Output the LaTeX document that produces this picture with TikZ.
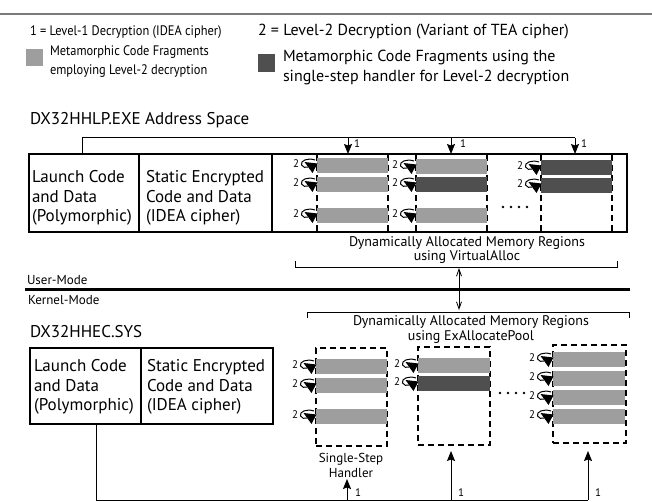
\documentclass[tikz,border=0pt]{standalone}
\usepackage{fontspec}
\setmainfont{PT Sans}
\newfontfamily\condfont[FakeStretch=0.9]{PT Sans}
\usetikzlibrary{arrows.meta}
\definecolor{lightg}{HTML}{9E9E9E}
\definecolor{darkg}{HTML}{4F4F4F}
\definecolor{ruleg}{HTML}{7A7A7A}
\tikzset{
  twoloop/.pic={
    \node[font=\fontsize{11}{11}\selectfont, inner sep=0pt] at (-21,6) {2};
    \draw[line width=1] (-2,2) .. controls (-9,-0.5) and (-17,2.5) .. (-15.5,7) .. controls (-14.5,9.5) and (-11,10) .. (-9,9);
    \fill (-12.5,4) -- (0.5,5.5) -- (-4.5,15) -- cycle;
  }
}
\begin{document}
\begin{tikzpicture}[x=1pt,y=-1pt,
  every node/.style={inner sep=0pt, outer sep=0pt},
  txtbig/.style={font=\fontsize{17}{19.5}\selectfont, align=left},
  txtlegA/.style={font=\condfont\fontsize{13.8}{20}\selectfont, align=left},
  txtlegB/.style={font=\condfont\fontsize{13.8}{19}\selectfont, align=left},
  txtlegC/.style={font=\fontsize{16}{20.5}\selectfont, align=left},
  txtsmall/.style={font=\fontsize{13}{15}\selectfont, align=center},
  txtbrack/.style={font=\fontsize{14}{14.5}\selectfont, align=center},
  txtone/.style={font=\fontsize{11}{11}\selectfont},
  solidbox/.style={draw, line width=1.1, anchor=north west},
  dashbox/.style={draw, line width=1.2, dash pattern=on 6pt off 4pt, anchor=north west},
  dashline/.style={line width=1.2, dash pattern=on 6pt off 4pt},
  lightfrag/.style={fill=lightg, draw=none, minimum height=15, anchor=north west},
  darkfrag/.style={lightfrag, fill=darkg},
  dnarrow/.style={line width=1, -{Stealth[length=10pt,width=8pt,inset=1.5pt]}},
  dotmark/.style={fill=black},
  conn/.style={line width=1},
]
\useasboundingbox (0,0) rectangle (652,502);
\draw[ruleg, line width=2] (0,14) -- (652,14);

% legend
\node[txtlegA, anchor=west] (leg1) at (30,32) {1 = Level-1 Decryption (IDEA cipher)};
\node[txtlegC, anchor=west] (leg2) at (258,32) {2 = Level-2 Decryption (Variant of TEA cipher)};
\node[fill=lightg, minimum width=17, minimum height=17, anchor=north west] (legsq1) at (26,49) {};
\node[txtlegB, anchor=west] (legt1) at (50,62) {Metamorphic Code Fragments\\employing Level-2 decryption};
\node[fill=darkg, minimum width=17, minimum height=18, anchor=north west] (legsq2) at (258,54) {};
\node[txtlegC, anchor=west] (legt2) at (283,67.5) {Metamorphic Code Fragments using the\\single-step handler for Level-2 decryption};

% upper address space
\node[txtbig, anchor=west] (utitle) at (30,120) {DX32HHLP.EXE Address Space};
\node[solidbox, minimum width=598, minimum height=78] (uspace) at (29,154) {};
\node[solidbox, minimum width=110, minimum height=78] (ulaunch) at (29,154) {};
\node[solidbox, minimum width=133, minimum height=78] (ustatic) at (139,154) {};
\node[txtbig, anchor=west] (ulaunchtxt) at (32,198) {Launch Code\\and Data\\(Polymorphic)};
\node[txtbig, anchor=west] (ustatictxt) at (146,198) {Static Encrypted\\Code and Data\\(IDEA cipher)};

% dashed region borders
\foreach \xx in {317,388,416,487,541,612}{
  \draw[dashline] (\xx,155) -- (\xx,231);
}
% fragments
\node[lightfrag, minimum width=71] (u1a) at (317,158) {};
\node[lightfrag, minimum width=71] (u1b) at (317,177) {};
\node[lightfrag, minimum width=71] (u1c) at (317,208) {};
\node[lightfrag, minimum width=71] (u2a) at (416,159) {};
\node[darkfrag, minimum width=71] (u2b) at (416,177) {};
\node[lightfrag, minimum width=71] (u2c) at (416,208) {};
\node[darkfrag, minimum width=71] (u3a) at (541,160) {};
\node[darkfrag, minimum width=71] (u3b) at (541,178) {};
\foreach \nn in {u1a,u1b,u1c,u2a,u2b,u2c,u3a,u3b}{
  \pic at (\nn.north west) {twoloop};
}
\foreach \xx in {503,511,519,527}{\fill[dotmark] (\xx,207) circle (1.3);}

% feed from launch code
\coordinate (ufeed) at (82,138);
\coordinate (ua1) at (348,154);
\coordinate (ua2) at (451,154);
\coordinate (ua3) at (575,154);
\draw[conn] (ulaunch.north -| ufeed) -- (ufeed) -- (ufeed -| ua3);
\draw[dnarrow] (ufeed -| ua1) -- (ua1);
\draw[dnarrow] (ufeed -| ua2) -- (ua2);
\draw[dnarrow] (ufeed -| ua3) -- (ua3);
\node[txtone, anchor=west] (ul1) at (354,144) {1};
\node[txtone, anchor=west] (ul2) at (460,144) {1};
\node[txtone, anchor=west] (ul3) at (581,144) {1};

% upper bracket
\node[txtbrack] (ubrtxt) at (467,250) {Dynamically Allocated Memory Regions\\using VirtualAlloc};
\coordinate (ubrL) at (295,261);
\coordinate (ubrR) at (617,261);
\coordinate (ubrmid) at (459,267);
\draw[conn] (ubrL) -- (ubrL |- ubrmid) -- (ubrR |- ubrmid) -- (ubrR);

% mode separator
\node[txtsmall, anchor=west] (umode) at (27,280) {User-Mode};
\draw[line width=3] (25,289) -- (630,289);
\node[txtsmall, anchor=west] (kmode) at (28,300) {Kernel-Mode};

% lower bracket
\coordinate (lbrL) at (307,318);
\coordinate (lbrR) at (629,318);
\coordinate (lbrmid) at (459,312);
\draw[conn] (lbrL) -- (lbrL |- lbrmid) -- (lbrR |- lbrmid) -- (lbrR);
\node[txtbrack] (lbrtxt) at (471,329.5) {Dynamically Allocated Memory Regions\\using ExAllocatePool};
\draw[line width=0.8, {Straight Barb[length=7pt,width=5pt]}-{Straight Barb[length=7pt,width=5pt]}, shorten <=1pt, shorten >=2pt] (ubrmid) -- (lbrmid);

% lower kernel space
\node[txtbig, anchor=west] (ltitle) at (30,332) {DX32HHEC.SYS};
\node[solidbox, minimum width=111, minimum height=76] (llaunch) at (30,348) {};
\node[solidbox, minimum width=132, minimum height=76] (lstatic) at (141,348) {};
\node[txtbig, anchor=west] (llaunchtxt) at (34,387) {Launch Code\\and Data\\(Polymorphic)};
\node[txtbig, anchor=west] (lstatictxt) at (147,387) {Static Encrypted\\Code and Data\\(IDEA cipher)};

\node[dashbox, minimum width=71, minimum height=98] (lb1) at (316,348) {};
\node[dashbox, minimum width=72, minimum height=98] (lb2) at (418,347) {};
\node[dashbox, minimum width=73, minimum height=98] (lb3) at (553,345) {};

\node[lightfrag, minimum width=71] (l1a) at (316,359) {};
\node[lightfrag, minimum width=71] (l1b) at (316,378) {};
\node[lightfrag, minimum width=71] (l1c) at (316,409) {};
\node[lightfrag, minimum width=72] (l2a) at (418,358) {};
\node[darkfrag, minimum width=72] (l2b) at (418,376) {};
\node[lightfrag, minimum width=72] (l3a) at (553,352) {};
\node[lightfrag, minimum width=72] (l3b) at (553,371) {};
\node[lightfrag, minimum width=72] (l3c) at (553,390) {};
\node[lightfrag, minimum width=72] (l3d) at (553,409) {};
\foreach \nn in {l1a,l1b,l1c,l2a,l2b,l3a,l3b,l3c,l3d}{
  \pic at (\nn.north west) {twoloop};
}
\foreach \xx in {500,508,516,524}{\fill[dotmark] (\xx,393) circle (1.3);}

\node[txtsmall] (ssh) at (351,465.5) {Single-Step\\Handler};

% feed to kernel regions
\coordinate (lfeed) at (96,500);
\coordinate (la1) at (347,479);
\coordinate (la2) at (451,451);
\coordinate (la3) at (588,451);
\draw[conn] (llaunch.south -| lfeed) -- (lfeed) -- (lfeed -| la3);
\draw[dnarrow] (lfeed -| la1) -- (la1);
\draw[dnarrow] (lfeed -| la2) -- (la2);
\draw[dnarrow] (lfeed -| la3) -- (la3);
\node[txtone, anchor=west] (ll1) at (355,493) {1};
\node[txtone, anchor=west] (ll2) at (458,493) {1};
\node[txtone, anchor=west] (ll3) at (595,493) {1};
\end{tikzpicture}
\end{document}
